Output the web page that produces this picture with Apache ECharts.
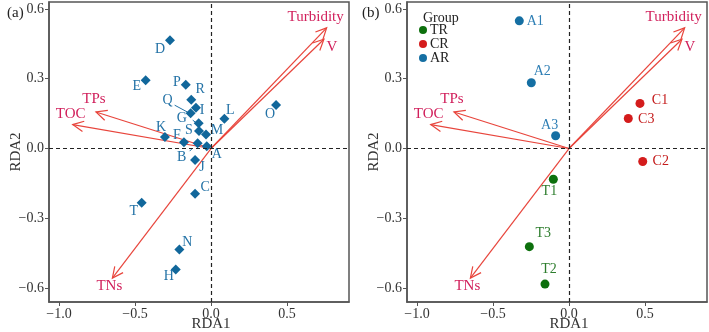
<!DOCTYPE html>
<html>
<head>
<meta charset="utf-8">
<script src="https://cdn.jsdelivr.net/npm/echarts@6.0.0/dist/echarts.min.js"></script>
<style>
  html, body { margin: 0; padding: 0; background: #fff; }
  #chart { width: 709px; height: 332px; }
</style>
</head>
<body>
<div id="chart"></div>
<script>
  // panel (a): sampling sites
  var siteNames = ['A', 'B', 'C', 'D', 'E', 'F', 'G', 'H', 'I', 'J', 'K', 'L', 'M', 'N', 'O', 'P', 'Q', 'R', 'S', 'T'];
  var siteX = [-0.028, -0.088, -0.105, -0.27, -0.43, -0.178, -0.081, -0.232, -0.099, -0.105, -0.303, 0.088, -0.033, -0.208, 0.428, -0.166, -0.134, -0.13, -0.079, -0.456];
  var siteY = [0.01, 0.023, -0.195, 0.466, 0.293, 0.027, 0.109, -0.52, 0.175, -0.049, 0.049, 0.128, 0.06, -0.434, 0.187, 0.274, 0.152, 0.21, 0.075, -0.233];

  // panel (b): groups
  var groupNames = ['TR', 'CR', 'AR'];
  var trNames = ['T1', 'T2', 'T3'];
  var trX = [-0.103, -0.158, -0.261];
  var trY = [-0.132, -0.583, -0.422];
  var crNames = ['C1', 'C2', 'C3'];
  var crX = [0.467, 0.485, 0.39];
  var crY = [0.194, -0.056, 0.129];
  var arNames = ['A1', 'A2', 'A3'];
  var arX = [-0.327, -0.248, -0.088];
  var arY = [0.549, 0.283, 0.055];

  // environmental vectors (same in both panels)
  var envNames = ['Turbidity', 'V', 'TPs', 'TOC', 'TNs'];
  var envX = [0.761, 0.743, -0.757, -0.91, -0.649];
  var envY = [0.519, 0.47, 0.157, 0.103, -0.557];

  var xTicks = [-1.0, -0.5, 0.0, 0.5];
  var yTicks = [-0.6, -0.3, 0.0, 0.3, 0.6];

  // label placement (pixels, relative to point)
  var labelOffset = {
    A: [10, 8], B: [-16, 14], C: [10, -7], D: [-10, 9], E: [-9, 6], F: [-7, -7], G: [-17, -5],
    H: [-7, 7], I: [6, 3], J: [7, 7], K: [-4, -10], L: [6, -8], M: [11, -4], N: [8, -7],
    O: [-6, 9], P: [-9, -2], Q: [-23, -13], R: [9, -10], S: [-10, -1], T: [-8, 9],
    T1: [-4, 12], T2: [4, -15], T3: [14, -13],
    C1: [20, -3], C2: [18, 0], C3: [18, 1],
    A1: [16, 0], A2: [11, -11], A3: [-6, -10]
  };
  // leader lines from label to point: [from, to] relative to point
  var leaderLines = { Q: [[-16, -8], [-3, -1]], B: [[-8, 8], [-5, 5]], G: [[-6, -3], [-2, 0]] };
  var envLabelOffset = {
    Turbidity: [-11, -11], V: [8, 8], TPs: [-2, -13], TOC: [-2, -10], TNs: [-3, 8]
  };

  var FONT = '"Liberation Serif", "Times New Roman", serif';
  var ARROW = '#e8453c';
  var ENV_TEXT = '#d11f5b';

  var chart = echarts.init(document.getElementById('chart'));

  function fmt(v) {
    return v.toFixed(1).replace('-', '\u2212');
  }

  function makeAxes(gi) {
    var x = {
      type: 'value', gridIndex: gi, min: -1.066, max: 0.908,
      name: 'RDA1', nameLocation: 'middle', nameGap: 15, nameMoveOverlap: false,
      nameTextStyle: { fontFamily: FONT, fontSize: 15, color: '#333', padding: [0, 0, 0, 24] },
      splitLine: { show: false },
      axisLine: { show: true, onZero: false, lineStyle: { color: '#555', width: 1.5 } },
      axisTick: { show: true, length: 4, customValues: xTicks, lineStyle: { color: '#555' } },
      axisLabel: { customValues: xTicks, formatter: fmt, fontFamily: FONT, fontSize: 14, color: '#333', margin: 5 }
    };
    var y = {
      type: 'value', gridIndex: gi, min: -0.66, max: 0.63,
      name: 'RDA2', nameLocation: 'middle', nameGap: 25, nameRotate: 90, nameMoveOverlap: false,
      nameTextStyle: { fontFamily: FONT, fontSize: 15, color: '#333' },
      splitLine: { show: false },
      axisLine: { show: true, onZero: false, lineStyle: { color: '#555', width: 1.5 } },
      axisTick: { show: true, length: 4, customValues: yTicks, lineStyle: { color: '#555' } },
      axisLabel: { customValues: yTicks, formatter: fmt, fontFamily: FONT, fontSize: 14, color: '#333', margin: 5 }
    };
    return [x, y];
  }

  function points(names, xs, ys) {
    return names.map(function (n, i) {
      return { name: n, value: [xs[i], ys[i]], label: { offset: labelOffset[n] } };
    });
  }

  function pointSeries(name, gi, names, xs, ys, symbol, size, color, textColor) {
    return {
      name: name, type: 'scatter', xAxisIndex: gi, yAxisIndex: gi,
      symbol: symbol, symbolSize: size, z: 4,
      itemStyle: { color: color, opacity: 1 },
      label: {
        show: true, position: 'inside', formatter: '{b}',
        fontFamily: FONT, fontSize: 14, color: textColor, textBorderWidth: 0
      },
      data: points(names, xs, ys)
    };
  }

  function arrowSeries(gi) {
    return {
      type: 'custom', xAxisIndex: gi, yAxisIndex: gi, z: 3, silent: true,
      data: envNames.map(function (n, i) { return [envX[i], envY[i]]; }),
      renderItem: function (params, api) {
        var o = api.coord([0, 0]);
        var p = api.coord([api.value(0), api.value(1)]);
        var ang = Math.atan2(p[1] - o[1], p[0] - o[0]);
        var L = 12, a = 0.45;
        var h1 = [p[0] - L * Math.cos(ang - a), p[1] - L * Math.sin(ang - a)];
        var h2 = [p[0] - L * Math.cos(ang + a), p[1] - L * Math.sin(ang + a)];
        var nm = envNames[params.dataIndex];
        var off = envLabelOffset[nm];
        return {
          type: 'group',
          children: [
            { type: 'line', shape: { x1: o[0], y1: o[1], x2: p[0], y2: p[1] }, style: { stroke: ARROW, lineWidth: 1.2 } },
            { type: 'polyline', shape: { points: [h1, p, h2] }, style: { stroke: ARROW, fill: null, lineWidth: 1.2 } },
            { type: 'text', style: { text: nm, x: p[0] + off[0], y: p[1] + off[1], align: 'center', verticalAlign: 'middle', fill: ENV_TEXT, font: '15px ' + FONT } }
          ]
        };
      }
    };
  }

  function leaderSeries(gi, names, xs, ys, color) {
    var rows = [];
    names.forEach(function (n, i) { if (leaderLines[n]) rows.push([xs[i], ys[i], n]); });
    return {
      type: 'custom', xAxisIndex: gi, yAxisIndex: gi, z: 3, silent: true,
      data: rows,
      renderItem: function (params, api) {
        var p = api.coord([api.value(0), api.value(1)]);
        var ll = leaderLines[rows[params.dataIndex][2]];
        return { type: 'line', shape: { x1: p[0] + ll[0][0], y1: p[1] + ll[0][1], x2: p[0] + ll[1][0], y2: p[1] + ll[1][1] }, style: { stroke: color, lineWidth: 1 } };
      }
    };
  }

  function zeroLines(gi) {
    return {
      type: 'scatter', xAxisIndex: gi, yAxisIndex: gi, data: [], z: 1,
      markLine: {
        silent: true, symbol: 'none', animation: false,
        label: { show: false },
        lineStyle: { type: [4, 3], color: '#222', width: 1.2 },
        data: [{ xAxis: 0 }, { yAxis: 0 }]
      }
    };
  }

  var axA = makeAxes(0), axB = makeAxes(1);

  var option = {
    animation: false,
    backgroundColor: '#fff',
    title: [
      { text: '(a)', left: 2, top: 1, textStyle: { fontFamily: FONT, fontSize: 15, fontWeight: 'normal', color: '#222' } },
      { text: '(b)', left: 357, top: 1, textStyle: { fontFamily: FONT, fontSize: 15, fontWeight: 'normal', color: '#222' } },
      { text: 'Group', left: 418, top: 6, textStyle: { fontFamily: FONT, fontSize: 14, fontWeight: 'normal', color: '#222' } }
    ],
    legend: {
      data: groupNames, orient: 'vertical', left: 419, top: 23,
      icon: 'circle', itemWidth: 8, itemHeight: 8, itemGap: 0, padding: 0,
      textStyle: { fontFamily: FONT, fontSize: 14, color: '#222', padding: [0, 0, 0, -2] }
    },
    grid: [
      { left: 49, top: 2, width: 300, height: 300, show: true, borderColor: '#555', borderWidth: 1.5, outerBoundsMode: 'none' },
      { left: 407, top: 2, width: 300, height: 300, show: true, borderColor: '#555', borderWidth: 1.5, outerBoundsMode: 'none' }
    ],
    xAxis: [axA[0], axB[0]],
    yAxis: [axA[1], axB[1]],
    series: [
      zeroLines(0),
      zeroLines(1),
      arrowSeries(0),
      arrowSeries(1),
      leaderSeries(0, siteNames, siteX, siteY, '#2372a6'),
      pointSeries('sites', 0, siteNames, siteX, siteY, 'diamond', 10, '#11679b', '#2372a6'),
      pointSeries('TR', 1, trNames, trX, trY, 'circle', 9, '#0d700d', '#2d7d2d'),
      pointSeries('CR', 1, crNames, crX, crY, 'circle', 9, '#d41c1c', '#c41a1a'),
      pointSeries('AR', 1, arNames, arX, arY, 'circle', 9, '#156fa3', '#2f7fb5')
    ]
  };

  chart.setOption(option);
</script>
</body>
</html>
